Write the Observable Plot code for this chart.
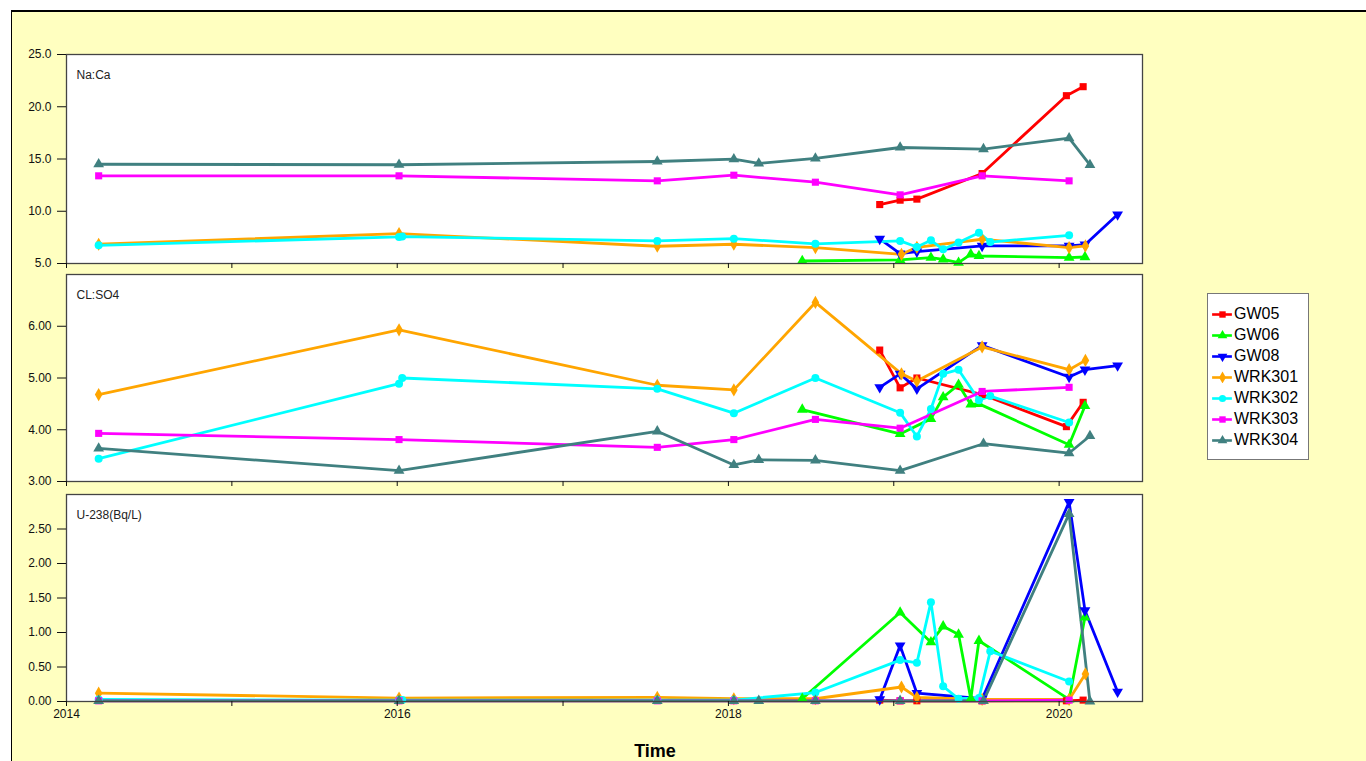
<!DOCTYPE html>
<html>
<head>
<meta charset="utf-8">
<script src="https://cdn.jsdelivr.net/npm/d3@7"></script>
<script src="https://cdn.jsdelivr.net/npm/@observablehq/plot@0.6"></script>
<style>
  html, body { margin: 0; padding: 0; width: 1366px; height: 761px; overflow: hidden; background: #fff; }
  #bg { position: absolute; left: 11px; top: 10px; width: 1355px; height: 751px; background: #ffffc0; border-top: 2px solid #000; border-left: 1px solid #000; box-sizing: border-box; }
  .panel { position: absolute; left: 10px; }
  #xlabel { position: absolute; left: 600px; width: 110px; top: 741px; text-align: center; font: bold 18px "Liberation Sans Narrow", "Liberation Sans", Arial, sans-serif; color: #000; }
  #legend { position: absolute; left: 1207px; top: 293px; width: 102px; height: 167px; background: #fff; border: 1px solid #777; box-sizing: border-box; font: 16px "Liberation Sans", Arial, sans-serif; color: #000; }
  .lg { position: absolute; left: 3px; height: 20px; display: flex; align-items: center; }
  .lg svg { margin-right: 1px; }
</style>
</head>
<body>
<div id="bg"></div>
<div id="p1" class="panel" style="top:44px"></div>
<div id="p2" class="panel" style="top:264px"></div>
<div id="p3" class="panel" style="top:484px"></div>
<div id="xlabel">Time</div>
<div id="legend"></div>
<script>
// ---- Series definitions ----
const seriesNames = ["GW05", "GW06", "GW08", "WRK301", "WRK302", "WRK303", "WRK304"];
const seriesColors = ["#ff0000", "#00ff00", "#0000ff", "#ffa500", "#00ffff", "#ff00ff", "#408080"];
const seriesSymbols = ["square", "triangle", "triangle", "diamond", "circle", "square", "triangle"];
const seriesRotate = [0, 0, 180, 0, 0, 0, 0];

// ---- GW05 ----
const datesGW05 = ["2018-12-01", "2019-01-15", "2019-02-21", "2019-07-15", "2020-01-17", "2020-02-23"];
const naCaGW05 = [10.64, 11.06, 11.16, 13.61, 21.06, 21.92];
const clSo4GW05 = [5.54, 4.81, 5.00, 4.68, 4.06, 4.53];
const u238GW05 = [0.02, 0.01, 0.01, 0.01, 0.01, 0.02];

// ---- GW06 ----
const datesGW06 = ["2018-06-13", "2019-01-15", "2019-03-24", "2019-04-20", "2019-05-24", "2019-06-20", "2019-07-08", "2020-01-23", "2020-02-27"];
const naCaGW06 = [5.24, 5.35, 5.56, 5.40, 5.08, 5.88, 5.72, 5.56, 5.62];
const clSo4GW06 = [4.39, 3.92, 4.21, 4.63, 4.87, 4.49, 4.50, 3.71, 4.46];
const u238GW06 = [0.04, 1.29, 0.86, 1.09, 0.97, 0.04, 0.88, 0.03, 1.22];

// ---- GW08 ----
const datesGW08 = ["2018-12-01", "2019-01-15", "2019-02-21", "2019-07-15", "2020-01-23", "2020-02-27", "2020-05-09"];
const naCaGW08 = [7.35, 5.94, 6.13, 6.68, 6.68, 6.80, 9.68];
const clSo4GW08 = [4.82, 5.08, 4.79, 5.63, 5.02, 5.16, 5.24];
const u238GW08 = [0.03, 0.81, 0.12, 0.04, 2.89, 1.32, 0.14];

// ---- WRK301 ----
const datesWRK301 = ["2014-03-13", "2016-01-05", "2017-07-28", "2018-01-13", "2018-07-12", "2019-01-18", "2019-02-21", "2019-07-15", "2020-01-23", "2020-02-28"];
const naCaWRK301 = [6.84, 7.86, 6.65, 6.84, 6.52, 5.88, 6.55, 7.32, 6.52, 6.68];
const clSo4WRK301 = [4.68, 5.93, 4.86, 4.77, 6.46, 5.08, 4.94, 5.60, 5.16, 5.34];
const u238WRK301 = [0.12, 0.05, 0.06, 0.04, 0.04, 0.21, 0.06, 0.03, 0.03, 0.40];

// ---- WRK302 ----
const datesWRK302 = ["2014-03-13", "2016-01-05", "2016-01-12", "2017-07-28", "2018-01-13", "2018-07-12", "2019-01-15", "2019-02-21", "2019-03-24", "2019-04-20", "2019-05-24", "2019-07-08", "2019-08-02", "2020-01-23"];
const naCaWRK302 = [6.74, 7.54, 7.58, 7.16, 7.38, 6.88, 7.16, 6.58, 7.22, 6.36, 7.00, 7.95, 7.05, 7.70];
const clSo4WRK302 = [3.44, 4.89, 5.00, 4.79, 4.32, 5.00, 4.33, 3.87, 4.40, 5.08, 5.16, 4.57, 4.65, 4.14];
const u238WRK302 = [0.03, 0.02, 0.02, 0.02, 0.02, 0.13, 0.60, 0.56, 1.44, 0.22, 0.04, 0.05, 0.73, 0.29];

// ---- WRK303 ----
const datesWRK303 = ["2014-03-13", "2016-01-05", "2017-07-28", "2018-01-13", "2018-07-12", "2019-01-15", "2019-07-15", "2020-01-23"];
const naCaWRK303 = [13.39, 13.39, 12.91, 13.45, 12.78, 11.57, 13.39, 12.91];
const clSo4WRK303 = [3.93, 3.81, 3.66, 3.81, 4.20, 4.03, 4.74, 4.82];
const u238WRK303 = [0.01, 0.01, 0.01, 0.01, 0.01, 0.01, 0.01, 0.02];

// ---- WRK304 ----
const datesWRK304 = ["2014-03-13", "2016-01-05", "2017-07-28", "2018-01-13", "2018-03-09", "2018-07-12", "2019-01-15", "2019-07-18", "2020-01-23", "2020-03-09"];
const naCaWRK304 = [14.50, 14.45, 14.76, 14.99, 14.57, 15.05, 16.10, 15.95, 17.00, 14.44];
const clSo4WRK304 = [3.64, 3.21, 3.97, 3.32, 3.42, 3.41, 3.21, 3.73, 3.55, 3.88];
const u238WRK304 = [0.01, 0.01, 0.01, 0.01, 0.01, 0.01, 0.01, 0.01, 2.72, 0.00];

// ---- Axis tick values ----
const naCaTicks = [5, 10, 15, 20, 25];
const clSo4Ticks = [3, 4, 5, 6];
const u238Ticks = [0, 0.5, 1, 1.5, 2, 2.5];
const xDomain = ["2014-01-01", "2020-07-03"];

// ---- Build table ----
const seriesData = [
  [datesGW05, naCaGW05, clSo4GW05, u238GW05],
  [datesGW06, naCaGW06, clSo4GW06, u238GW06],
  [datesGW08, naCaGW08, clSo4GW08, u238GW08],
  [datesWRK301, naCaWRK301, clSo4WRK301, u238WRK301],
  [datesWRK302, naCaWRK302, clSo4WRK302, u238WRK302],
  [datesWRK303, naCaWRK303, clSo4WRK303, u238WRK303],
  [datesWRK304, naCaWRK304, clSo4WRK304, u238WRK304]
];
const rows = [];
seriesData.forEach(([ds, a, b, c], i) => {
  ds.forEach((d, j) => rows.push({
    series: seriesNames[i], rot: seriesRotate[i], date: new Date(d + "T00:00:00Z"),
    naCa: a[j], clSo4: b[j], u238: c[j]
  }));
});

const tickFont = '"Liberation Sans Narrow", "Liberation Sans", Arial, sans-serif';

function panel(key, label, yDomain, yTicks, yFmt, showXLabels, plotH, marginBottom) {
  const marginTop = 10;
  return Plot.plot({
    width: 1142,
    height: marginTop + plotH + marginBottom,
    marginLeft: 56, marginRight: 10, marginTop, marginBottom,
    style: { background: "transparent", fontFamily: tickFont, fontSize: "12px", color: "#111", overflow: "visible" },
    x: { type: "utc", domain: xDomain.map(d => new Date(d + "T00:00:00Z")) },
    y: { domain: yDomain },
    color: { domain: seriesNames, range: seriesColors },
    symbol: { domain: seriesNames, range: seriesSymbols },
    marks: [
      Plot.frame({ fill: "#fff", stroke: null }),
      Plot.line(rows, { x: "date", y: key, z: "series", stroke: "series", strokeWidth: 2.8 }),
      Plot.dot(rows, { x: "date", y: key, fill: "series", symbol: "series", rotate: "rot", r: 4, stroke: null }),
      Plot.frame({ stroke: "#444", strokeWidth: 1.3 }),
      Plot.axisY({ ticks: yTicks, tickSize: 9, tickPadding: 6, tickFormat: yFmt, label: null }),
      Plot.axisX({ ticks: "year", tickSize: 5, tickPadding: 3, label: null,
        tickFormat: d => showXLabels && d.getUTCFullYear() % 2 === 0 ? String(d.getUTCFullYear()) : "" }),
      Plot.text([label], { frameAnchor: "top-left", dx: 10, dy: 16, text: d => d, fontSize: 12, fill: "#222", fontFamily: '"Liberation Sans", Arial, sans-serif' })
    ]
  });
}

document.getElementById("p1").append(panel("naCa", "Na:Ca", [5, 25], naCaTicks, d3.format(".1f"), false, 209, 8));
document.getElementById("p2").append(panel("clSo4", "CL:SO4", [3, 7], clSo4Ticks, d3.format(".2f"), false, 207, 8));
document.getElementById("p3").append(panel("u238", "U-238(Bq/L)", [0, 3], u238Ticks, d3.format(".2f"), true, 207, 24));

// ---- Legend ----
const legend = document.getElementById("legend");
seriesNames.forEach((name, i) => {
  const item = document.createElement("div");
  item.className = "lg";
  item.style.top = (10 + i * 21) + "px";
  const sw = Plot.plot({
    width: 22, height: 12, margin: 0,
    x: { domain: [0, 1], axis: null }, y: { domain: [0, 1], axis: null },
    style: { background: "transparent" },
    marks: [
      Plot.ruleY([0.5], { x1: 0.05, x2: 0.95, stroke: seriesColors[i], strokeWidth: 2.6 }),
      Plot.dot([0.5], { x: d => d, y: 0.5, fill: seriesColors[i], symbol: seriesSymbols[i], rotate: seriesRotate[i], r: 3.6 })
    ]
  });
  item.append(sw);
  const t = document.createElement("span");
  t.textContent = name;
  item.append(t);
  legend.append(item);
});
</script>
</body>
</html>
